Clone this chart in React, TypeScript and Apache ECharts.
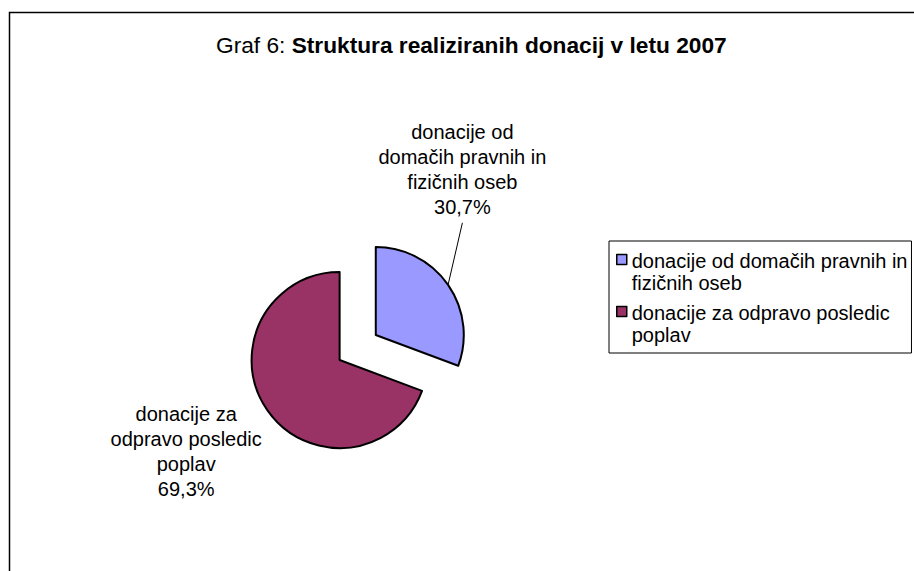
import React, { useEffect, useRef } from 'react';
import * as echarts from 'echarts';

const categories = [
  'donacije od domačih pravnih in fizičnih oseb',
  'donacije za odpravo posledic poplav',
];
const shares = [30.7, 69.3];
const sliceColors = ['#9999FF', '#993366'];
const labelLines = [
  ['donacije od', 'domačih pravnih in', 'fizičnih oseb'],
  ['donacije za', 'odpravo posledic', 'poplav'],
];
const legendLines = [
  ['donacije od domačih pravnih in', 'fizičnih oseb'],
  ['donacije za odpravo posledic', 'poplav'],
];
const titlePrefix = 'Graf 6: ';
const titleMain = 'Struktura realiziranih donacij v letu 2007';

const FONT = "'Liberation Sans', Arial, Helvetica, sans-serif";
const fmtPct = (v: number) => v.toFixed(1).replace('.', ',') + '%';

export default function App() {
  const ref = useRef<HTMLDivElement>(null);
  useEffect(() => {
    if (!ref.current) return;
    const chart = echarts.init(ref.current, undefined, { renderer: 'svg' });

    const baseCenter = [357.7, 347.5];
    const explode = 22;
    const radius = 88;
    const labelPos = [
      [462.4, 169.8],
      [186.2, 451.3],
    ];
    const total = shares.reduce((a, b) => a + b, 0);

    // each slice is drawn by its own pie, whose centre is pushed out along the slice's bisector
    let cum = 0;
    const series = shares.map((share, i) => {
      const midFrac = (cum + share / 2) / total;
      cum += share;
      const ang = Math.PI / 2 - midFrac * 2 * Math.PI;
      const cx = baseCenter[0] + explode * Math.cos(ang);
      const cy = baseCenter[1] - explode * Math.sin(ang);
      return {
        type: 'pie',
        name: 'slice' + i,
        silent: true,
        center: [cx, cy],
        radius,
        startAngle: 90,
        clockwise: true,
        avoidLabelOverlap: false,
        label: {
          show: true,
          position: 'outside',
          fontFamily: FONT,
          fontSize: 20,
          lineHeight: 25,
          color: '#000',
          align: 'center',
          formatter: (p: any) =>
            [...labelLines[p.dataIndex], fmtPct(shares[p.dataIndex])].join('\n'),
        },
        labelLine: {
          show: true,
          length: 10,
          length2: 0,
          smooth: false,
          lineStyle: { color: '#000', width: 1 },
        },
        labelLayout: (params: any) => {
          const p = labelPos[params.dataIndex];
          return { x: p[0], y: p[1], align: 'center', verticalAlign: 'middle' };
        },
        data: categories.map((name, j) => {
          const own = j === i;
          return {
            name,
            value: shares[j],
            itemStyle: own
              ? { color: sliceColors[j], borderColor: '#000', borderWidth: 2 }
              : { color: 'rgba(0,0,0,0)', borderWidth: 0 },
            label: own ? (j === 0 ? { padding: [0, 0, 6, 0] } : {}) : { show: false },
            labelLine: { show: own && j === 0 },
          };
        }),
      };
    });

    const option: any = {
      animation: false,
      backgroundColor: '#ffffff',
      textStyle: { fontFamily: FONT },
      title: {
        text: `{n|${titlePrefix}}{b|${titleMain}}`,
        left: 216,
        top: 33,
        padding: 0,
        textStyle: {
          rich: {
            n: { fontFamily: FONT, fontSize: 22.7, color: '#000', fontWeight: 'normal' },
            b: { fontFamily: FONT, fontSize: 22.7, color: '#000', fontWeight: 'bold' },
          },
        },
      },
      legend: {
        orient: 'vertical',
        left: 609,
        top: 241,
        padding: [9, 4, 7, 7],
        itemGap: 8,
        itemWidth: 10,
        itemHeight: 35,
        icon: 'path://M0,0h10v10h-10z M0,35',
        selectedMode: false,
        borderColor: '#000',
        borderWidth: 1,
        itemStyle: { borderColor: '#000', borderWidth: 1.5 },
        textStyle: { fontFamily: FONT, fontSize: 20, lineHeight: 22, color: '#000' },
        data: categories.map((name, i) => ({
          name,
          itemStyle: { color: sliceColors[i], borderColor: '#000', borderWidth: 1.5 },
        })),
        formatter: (name: string) => legendLines[categories.indexOf(name)].join('\n'),
      },
      graphic: [
        {
          type: 'rect',
          shape: { x: 9.5, y: 12.5, width: 1000, height: 1000 },
          style: { fill: 'none', stroke: '#000', lineWidth: 1.5 },
          silent: true,
        },
      ],
      series,
    };
    chart.setOption(option);
    return () => chart.dispose();
  }, []);
  return (
    <div
      ref={ref}
      style={{ position: 'fixed', left: 0, top: 0, width: 914, height: 571, background: '#fff' }}
    />
  );
}
